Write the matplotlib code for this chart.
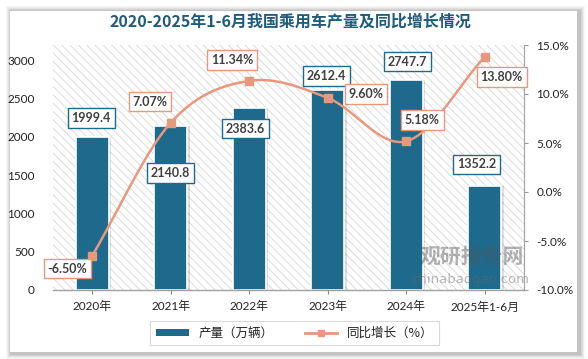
import numpy as np
import matplotlib
matplotlib.use("Agg")
import matplotlib.pyplot as plt
from matplotlib.patches import Rectangle, Patch
from matplotlib.lines import Line2D

plt.rcParams['font.family'] = ['Lato', 'Noto Sans CJK SC', 'DejaVu Sans']
plt.rcParams['hatch.linewidth'] = 0.6

categories = ['2020年', '2021年', '2022年', '2023年', '2024年', '2025年1-6月']
production = [1999.4, 2140.8, 2383.6, 2612.4, 2747.7, 1352.2]
growth = [-6.50, 7.07, 11.34, 9.60, 5.18, 13.80]
title = '2020-2025年1-6月我国乘用车产量及同比增长情况'
bar_name = '产量（万辆）'
line_name = '同比增长（%）'

BAR_C = '#1D6A8D'
LINE_C = '#E8987C'
TXT_C = '#404040'

W, H = 588, 359
fig = plt.figure(figsize=(W / 100, H / 100), dpi=100)
fig.patch.set_facecolor('white')

def fx(px):
    return px / W

def fy(py):
    return 1 - py / H

# card shadow + card
for i, a in enumerate([0.03, 0.04, 0.05, 0.06, 0.07]):
    d = 6 - i
    fig.patches.append(Rectangle((fx(10 - d + 2), fy(352 + d + 1)), fx(567 + 2 * d), (341 + 2 * d) / H,
                                 transform=fig.transFigure, facecolor='black', alpha=a,
                                 edgecolor='none', zorder=-3))
fig.patches.append(Rectangle((fx(10), fy(352)), fx(567), 341 / H, transform=fig.transFigure,
                             facecolor='white', edgecolor='none', zorder=-2))

ax = fig.add_axes([fx(53), fy(290), fx(471), 245 / H])
ax.patch.set_visible(False)
x = np.arange(len(categories))

ax.add_patch(Rectangle((0, 0), 1, 1, transform=ax.transAxes, facecolor='white',
                       edgecolor='#d6d6d6', hatch='\\\\\\\\', lw=0, zorder=0))

# bar shadow
ax.bar(x + 0.03, production, width=0.42, color='black', alpha=0.12, zorder=1, linewidth=0)
ax.bar(x, production, width=0.42, color=BAR_C, edgecolor='white', linewidth=1.2, zorder=2)

ax.set_xlim(-0.5, len(categories) - 0.5)
ax.set_ylim(0, 3200)
ax.set_yticks(np.arange(0, 3001, 500))
ax.set_xticks(x)
ax.set_xticklabels(categories, fontsize=8.5, color='#222222')
ax.tick_params(axis='x', length=3, color='#888888', pad=5)
ax.tick_params(axis='y', length=0, pad=13, labelsize=8.5, labelcolor='#222222')
for s in ['left', 'top', 'right']:
    ax.spines[s].set_visible(False)
ax.spines['bottom'].set_color('#a0a0a0')
ax.spines['bottom'].set_linewidth(1.0)

ax2 = ax.twinx()
ax2.set_ylim(-10, 15)
ax2.set_yticks(np.arange(-10, 16, 5))
ax2.set_yticklabels([f'{v:.1f}%' for v in np.arange(-10, 16, 5)])
ax2.tick_params(axis='y', direction='out', length=3, color='#999999', pad=6,
                labelsize=8.5, labelcolor='#222222')
for s in ['left', 'top', 'bottom']:
    ax2.spines[s].set_visible(False)
ax2.spines['right'].set_color('#a0a0a0')

# smooth curve (Catmull-Rom through the data points)
P = np.column_stack([x, growth]).astype(float)
Pp = np.vstack([2 * P[0] - P[1], P, 2 * P[-1] - P[-2]])
cx, cy = [], []
for i in range(1, len(Pp) - 2):
    p0, p1, p2, p3 = Pp[i - 1], Pp[i], Pp[i + 1], Pp[i + 2]
    t = np.linspace(0, 1, 30)[:, None]
    c = 0.5 * ((2 * p1) + (-p0 + p2) * t + (2 * p0 - 5 * p1 + 4 * p2 - p3) * t ** 2
               + (-p0 + 3 * p1 - 3 * p2 + p3) * t ** 3)
    cx.extend(c[:, 0]); cy.extend(c[:, 1])
ax2.plot(cx, cy, color=LINE_C, lw=1.8, zorder=3, solid_capstyle='round')
ax2.plot(x, growth, linestyle='none', marker='s', markersize=5.5, color=LINE_C, zorder=4)

# labels
bar_off = [(-1, 19), (0, -47), (-4, -21), (-1, 14), (1, 18), (-8, 22)]
line_off = [(-25, -13), (-21, 21), (-17, 21), (38, 4), (16, 21), (17, -20)]
k = 0.72
for i, v in enumerate(production):
    dx, dy = bar_off[i]
    ax2.annotate(f'{v:.1f}', xy=(x[i], v), xycoords=ax.transData,
                 xytext=(dx * k, dy * k), textcoords='offset points',
                 ha='center', va='center', fontsize=9, fontweight='bold', color=TXT_C,
                 bbox=dict(boxstyle='square,pad=0.3', fc='white', ec=BAR_C, lw=1.0), zorder=6)
for i, v in enumerate(growth):
    dx, dy = line_off[i]
    ax2.annotate(f'{v:.2f}%', xy=(x[i], v), xycoords='data',
                 xytext=(dx * k, dy * k), textcoords='offset points',
                 ha='center', va='center', fontsize=9, fontweight='bold', color=TXT_C,
                 bbox=dict(boxstyle='square,pad=0.3', fc='white', ec=LINE_C, lw=1.0), zorder=6)

# title
fig.text(fx(290), fy(22), title, ha='center', va='center', fontsize=11.5, fontweight='bold',
         color='#1F5B7A', family=['Noto Sans CJK SC', 'DejaVu Sans'], zorder=5)

# watermark
fig.text(fx(472), fy(256), '观研报告网', ha='center', va='center', fontsize=15, fontweight='bold',
         color='#555555', alpha=0.45, family=['Noto Sans CJK SC'], zorder=10)
fig.text(fx(470), fy(279), 'chinabaogao.com', ha='center', va='center', fontsize=9.5,
         color='#666666', alpha=0.45, family=['DejaVu Sans'], zorder=10)

# legend
handles = [Patch(facecolor=BAR_C, edgecolor='none'),
           Line2D([0], [0], color=LINE_C, lw=2, marker='s', markersize=5)]
leg = fig.legend(handles, [bar_name, line_name], loc='center', bbox_to_anchor=(fx(295), fy(333)),
                 ncol=2, frameon=True, fancybox=False, edgecolor='#d0d0d0', fontsize=9,
                 handlelength=2.6, handleheight=0.5, columnspacing=2.5, borderpad=0.45,
                 prop={'family': ['Noto Sans CJK SC'], 'size': 9})
leg.get_frame().set_linewidth(0.8)
for t in leg.get_texts():
    t.set_color('#222222')

fig.savefig('out.png', dpi=100, facecolor='white')
